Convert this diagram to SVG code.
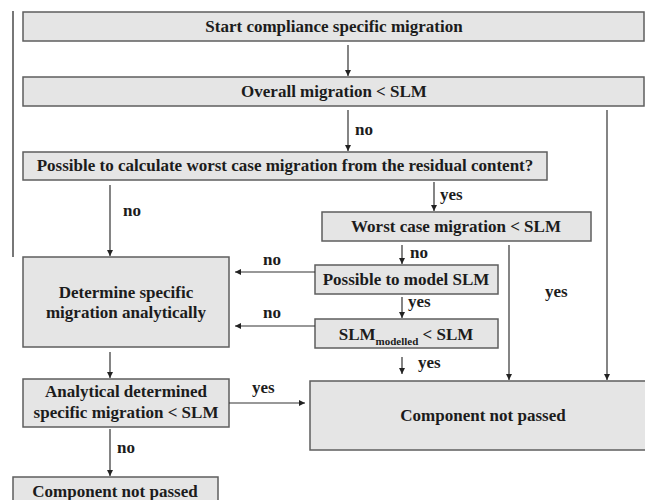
<svg xmlns="http://www.w3.org/2000/svg" width="645" height="500" viewBox="0 0 645 500">
<style>
.box{fill:#e5e5e5;stroke:#5e5e5e;stroke-width:1.5}
.t{font-family:"Liberation Serif","Times New Roman",serif;font-weight:bold;font-size:17px;fill:#1c1c1c;text-anchor:middle}
.l{font-family:"Liberation Serif","Times New Roman",serif;font-weight:bold;font-size:17px;fill:#1c1c1c}
.c{stroke:#333;stroke-width:1.2;fill:none;marker-end:url(#ah)}
.sub{font-size:11px}
</style>
<defs>
<marker id="ah" viewBox="0 0 10 10" refX="10" refY="5" markerWidth="6" markerHeight="6" markerUnits="userSpaceOnUse" orient="auto">
<path d="M0,0 L10,5 L0,10 z" fill="#222"/>
</marker>
</defs>
<rect width="645" height="500" fill="#fff"/>
<line x1="13" y1="11" x2="13" y2="257" stroke="#777" stroke-width="2"/>

<g id="n1"><rect class="box" x="23" y="12" width="621" height="29"/><text class="t" x="334" y="32">Start compliance specific migration</text></g>
<g id="n2"><rect class="box" x="23" y="77" width="621" height="29"/><text class="t" x="334" y="97">Overall migration &lt; SLM</text></g>
<g id="n3"><rect class="box" x="23" y="152" width="524" height="28"/><text class="t" x="285" y="171">Possible to calculate worst case migration from the residual content?</text></g>
<g id="n4"><rect class="box" x="322" y="212" width="269" height="29"/><text class="t" x="456" y="232">Worst case migration &lt; SLM</text></g>
<g id="n5"><rect class="box" x="315" y="265" width="183" height="29"/><text class="t" x="406" y="285">Possible to model SLM</text></g>
<g id="n6"><rect class="box" x="315" y="319" width="183" height="29"/><text class="t" x="406" y="340">SLM<tspan class="sub" dy="5">modelled</tspan><tspan dy="-5"> &lt; SLM</tspan></text></g>
<g id="n7"><rect class="box" x="23" y="257" width="206" height="90"/><text class="t" x="126" y="298">Determine specific</text><text class="t" x="126" y="318">migration analytically</text></g>
<g id="n8"><rect class="box" x="23" y="379" width="206" height="48"/><text class="t" x="126" y="397">Analytical determined</text><text class="t" x="126" y="418">specific migration &lt; SLM</text></g>
<g id="n9"><rect class="box" x="310" y="381" width="345" height="69"/><text class="t" x="483" y="421">Component not passed</text></g>
<g id="n10"><rect class="box" x="13" y="477" width="205" height="30"/><text class="t" x="115" y="497">Component not passed</text></g>

<g id="connectors">
<line class="c" x1="348" y1="45" x2="348" y2="76"/>
<line class="c" x1="348" y1="110" x2="348" y2="151"/>
<line class="c" x1="607" y1="110" x2="607" y2="380"/>
<line class="c" x1="434" y1="182" x2="434" y2="211"/>
<line class="c" x1="110" y1="185" x2="110" y2="256"/>
<line class="c" x1="402" y1="245" x2="402" y2="264"/>
<line class="c" x1="509" y1="245" x2="509" y2="380"/>
<line class="c" x1="402" y1="297" x2="402" y2="318"/>
<line class="c" x1="402" y1="357" x2="402" y2="374"/>
<line class="c" x1="315" y1="272" x2="235" y2="272"/>
<line class="c" x1="315" y1="326" x2="235" y2="326"/>
<line class="c" x1="110" y1="352" x2="110" y2="378"/>
<line class="c" x1="229" y1="403" x2="305" y2="403"/>
<line class="c" x1="110" y1="429" x2="110" y2="476"/>
<text class="l" x="355" y="135">no</text>
<text class="l" x="440" y="200">yes</text>
<text class="l" x="123" y="216">no</text>
<text class="l" x="410" y="258">no</text>
<text class="l" x="408" y="307">yes</text>
<text class="l" x="418" y="368">yes</text>
<text class="l" x="545" y="297">yes</text>
<text class="l" x="263" y="265">no</text>
<text class="l" x="263" y="318">no</text>
<text class="l" x="252" y="393">yes</text>
<text class="l" x="117" y="453">no</text>
</g>
</svg>
